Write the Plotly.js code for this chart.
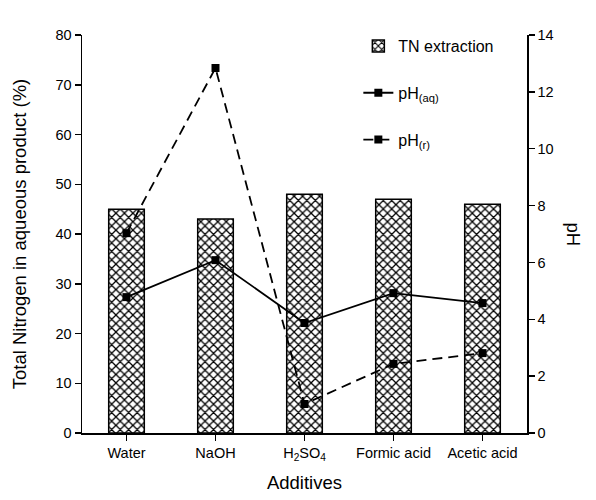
<!DOCTYPE html>
<html>
<head>
<meta charset="utf-8">
<script src="https://cdn.plot.ly/plotly-3.0.1.min.js"></script>
<style>html,body{margin:0;padding:0;background:#fff}#chart{width:596px;height:500px}</style>
</head>
<body>
<div id="chart"></div>
<script>
var categories = ["Water", "NaOH", "H<sub>2</sub>SO<sub>4</sub>", "Formic acid", "Acetic acid"];
var tnExtraction = [45, 43, 48, 47, 46];
var phAq = [4.78, 6.08, 3.87, 4.92, 4.57];
var phR = [7.03, 12.84, 1.02, 2.43, 2.81];

var font = "Liberation Sans, Arial, sans-serif";

var traces = [
  {
    type: "bar", x: categories, y: tnExtraction, name: "TN extraction",
    width: 0.4, legendgroup: "a",
    marker: {color: "white", line: {color: "black", width: 1.5},
      pattern: {shape: "x", fgcolor: "black", bgcolor: "white", size: 6, solidity: 0.38}},
    hoverinfo: "skip"
  },
  {
    type: "scatter", mode: "lines+markers", x: categories, y: phAq, yaxis: "y2",
    name: "pH<sub>(aq)</sub>", legendgroup: "b",
    line: {color: "black", width: 1.8},
    marker: {symbol: "square", size: 8, color: "black"}
  },
  {
    type: "scatter", mode: "lines+markers", x: categories, y: phR, yaxis: "y2",
    name: "pH<sub>(r)</sub>", legendgroup: "c",
    line: {color: "black", width: 1.8, dash: "10px,6px"},
    marker: {symbol: "square", size: 8, color: "black"}
  }
];

var layout = {
  width: 596, height: 500,
  margin: {l: 82, r: 69, t: 35, b: 67},
  paper_bgcolor: "white", plot_bgcolor: "white",
  font: {family: font, color: "black", size: 14.5},
  showlegend: true,
  legend: {x: 0.621, y: 1.015, xanchor: "left", yanchor: "top",
    font: {family: font, size: 16, color: "black"},
    tracegroupgap: 23, bgcolor: "rgba(0,0,0,0)", traceorder: "grouped"},
  xaxis: {
    type: "category", range: [-0.5, 4.5],
    showline: true, linecolor: "black", linewidth: 1.5,
    ticks: "outside", ticklen: 6, tickwidth: 1.5, tickcolor: "black",
    showgrid: false, zeroline: false,
    tickfont: {family: font, size: 14.5},
    title: {text: "Additives", font: {family: font, size: 18.5}, standoff: 14}
  },
  yaxis: {
    range: [0, 80], dtick: 10,
    showline: true, linecolor: "black", linewidth: 1.5,
    ticks: "outside", ticklen: 6, tickwidth: 1.5, tickcolor: "black",
    showgrid: false, zeroline: false,
    tickfont: {family: font, size: 14.5},
    title: {text: "Total Nitrogen in aqueous product (%)", font: {family: font, size: 18.5}, standoff: 24}
  },
  yaxis2: {
    overlaying: "y", side: "right", range: [0, 14], dtick: 2,
    showline: true, linecolor: "black", linewidth: 1.5,
    ticks: "outside", ticklen: 6, tickwidth: 1.5, tickcolor: "black",
    showgrid: false, zeroline: false,
    tickfont: {family: font, size: 14.5}
  },
  annotations: [
    {text: "pH", xref: "paper", yref: "paper", x: 1.0, y: 0.5, xanchor: "left", yanchor: "middle",
     xshift: 34, textangle: 90, showarrow: false, font: {family: font, size: 18.5, color: "black"}}
  ]
};

Plotly.newPlot("chart", traces, layout, {displayModeBar: false, staticPlot: true});
</script>
</body>
</html>
